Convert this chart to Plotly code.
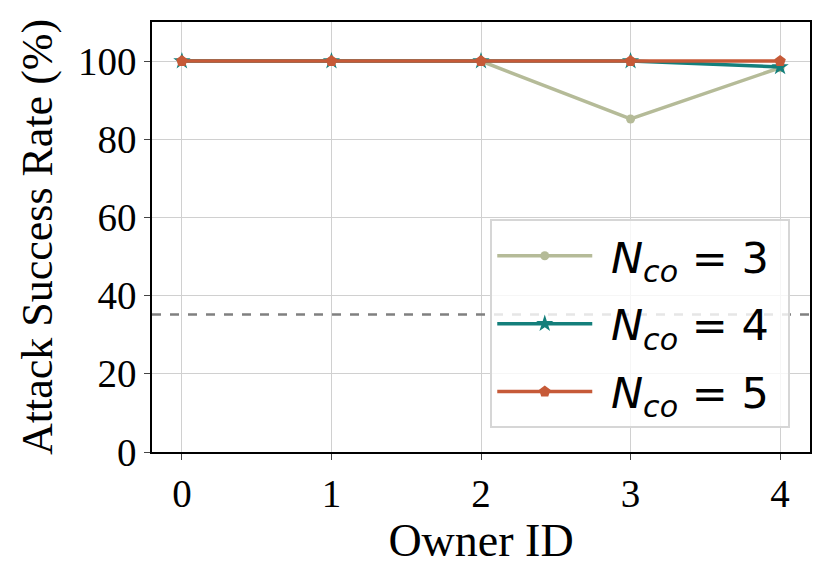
import plotly.graph_objects as go

owner_ids = [0, 1, 2, 3, 4]
asr_n3 = [100, 100, 100, 85.2, 98.3]
asr_n4 = [100, 100, 100, 100, 98.5]
asr_n5 = [100, 100, 100, 100, 100]
baseline = 35.2

series = [
    ("<i>N</i><sub><i>co</i></sub> = 3", asr_n3, "#b5bb98", "circle", 9),
    ("<i>N</i><sub><i>co</i></sub> = 4", asr_n4, "#147f7b", "star", 13),
    ("<i>N</i><sub><i>co</i></sub> = 5", asr_n5, "#c65a38", "pentagon", 12),
]

fig = go.Figure()

# linea de referencia
fig.add_trace(go.Scatter(x=[-0.2, 4.2], y=[baseline, baseline], mode='lines',
                         line=dict(color='#808080', width=2.5, dash='dash'),
                         showlegend=False, hoverinfo='skip'))

for i, (name, vals, color, symbol, size) in enumerate(series):
    fig.add_trace(go.Scatter(x=owner_ids, y=vals, mode='lines+markers',
                             name='&nbsp;' + name + '&nbsp;', legendgroup=f'g{i}',
                             line=dict(color=color, width=3.5),
                             marker=dict(symbol=symbol, size=size, color=color)))

fig.update_layout(
    width=829, height=577,
    margin=dict(l=144, r=27, t=14, b=133),
    plot_bgcolor='white', paper_bgcolor='white',
    font=dict(family='Liberation Serif', size=39, color='black'),
    legend=dict(x=0.97, y=0.055, xanchor='right', yanchor='bottom',
                bgcolor='rgba(255,255,255,0.8)', bordercolor='#d6d6d6', borderwidth=2,
                font=dict(family='DejaVu Sans', size=43),
                itemwidth=95, tracegroupgap=9),
)
fig.update_xaxes(range=[-0.2, 4.2], tickvals=owner_ids, title_text='Owner ID',
                 tickfont=dict(size=39), title_font=dict(size=46),
                 showgrid=True, gridcolor='#d0d0d0', gridwidth=1,
                 showline=True, linecolor='black', linewidth=1.5, mirror=True,
                 ticks='outside', ticklen=6, zeroline=False, title_standoff=4)
fig.update_yaxes(range=[0, 110], tickvals=[0, 20, 40, 60, 80, 100],
                 title_text='Attack Success Rate (%)',
                 tickfont=dict(size=39), title_font=dict(size=44),
                 showgrid=True, gridcolor='#d0d0d0', gridwidth=1,
                 showline=True, linecolor='black', linewidth=1.5, mirror=True,
                 ticks='outside', ticklen=6, zeroline=False, title_standoff=12)

fig.write_html("out.html")
